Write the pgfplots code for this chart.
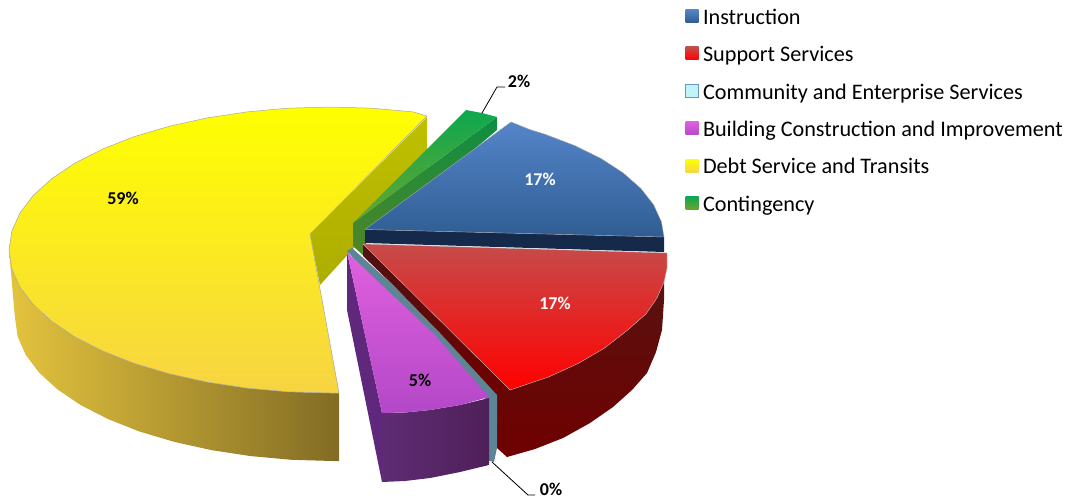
\documentclass[border=0pt]{standalone}
\usepackage{fontspec}
\setmainfont{Carlito}
\usepackage{pgfplots}
\pgfplotsset{compat=1.18}
\definecolor{yellowTop}{HTML}{FFFF00}
\definecolor{yellowLow}{HTML}{F7D443}
\definecolor{blueTop}{HTML}{5585C9}
\definecolor{blueLow}{HTML}{2F5D93}
\definecolor{blueWall}{HTML}{15294A}
\definecolor{redTop}{HTML}{C64C4A}
\definecolor{redLow}{HTML}{FF0000}
\definecolor{purpleTop}{HTML}{DF60DE}
\definecolor{purpleLow}{HTML}{B448C8}
\definecolor{greenTop}{HTML}{0DA84F}
\definecolor{greenLow}{HTML}{6AA52E}
\definecolor{teal}{HTML}{5E8596}
\newcommand{\pct}[1]{\fontsize{18}{21}\selectfont\bfseries #1}
\begin{document}
\begin{tikzpicture}
\begin{axis}[
  scale only axis, width=1068pt, height=498pt,
  xmin=0, xmax=1068, ymin=0, ymax=498, y dir=reverse,
  hide axis, clip=false,
  legend style={at={(axis cs:685,9.5)}, anchor=north west, draw=none, fill=none,
    inner sep=0pt, outer sep=0pt, row sep=17.8pt, column sep=4pt,
    nodes={inner sep=0pt, anchor=west, text height=14pt, text depth=5pt,
           font=\fontsize{22.2}{26}\selectfont}},
  legend cell align=left,
  legend image code/.code={\path[#1] (0pt,-3pt) rectangle (13pt,10pt);},
]
\addplot[draw=none, forget plot] coordinates {(0,0) (1068,498)};

% Debt Service and Transits: cut wall, top face, outer wall
\addplot[forget plot, draw=none, top color=yellow!75!black, bottom color=yellow!68!black]
  coordinates {(427,117) (427,168) (320,285) (310,234)} -- cycle;
\addplot[forget plot, draw=none, left color=yellowLow!92!black, right color=yellowLow!50!black!90!brown]
  coordinates {(9,250) (11.8,268.7) (19.9,287) (33.4,304.7) (52,321.5) (75.3,337.1) (103,351.1)
   (134.6,363.5) (169.5,373.8) (207.2,382.1) (246.9,388.1) (288.1,391.8) (330,393) (339,393)
   (339,461) (333,461) (291.5,459.8) (250.7,456.1) (211.3,450.1) (174,441.8) (139.4,431.5)
   (108.1,419.1) (80.7,405.1) (57.6,389.5) (39.2,372.7) (25.8,355) (17.7,336.7) (15,318)} -- cycle;
\addplot[forget plot, draw=gray!70, line width=0.5pt, top color=yellowTop, bottom color=yellowLow]
  coordinates {(427,116) (413.1,111.9) (371.9,108.2) (330,107) (288.1,108.2) (246.9,111.9)
   (207.2,117.9) (169.5,126.2) (134.6,136.5) (103,148.9) (75.3,162.9) (52,178.5) (33.4,195.3)
   (19.9,213) (11.8,231.3) (9,250) (11.8,268.7) (19.9,287) (33.4,304.7) (52,321.5) (75.3,337.1)
   (103,351.1) (134.6,363.5) (169.5,373.8) (207.2,382.1) (246.9,388.1) (288.1,391.8) (330,393)
   (339,393) (310,234)} -- cycle;

% Contingency
\addplot[forget plot, draw=none, top color=greenTop!85!black, bottom color=greenLow!80!black]
  coordinates {(497,117) (497,130) (366,240) (366,258) (353,246) (353,223)} -- cycle;
\addplot[forget plot, draw=none, top color=greenTop, bottom color=greenLow]
  coordinates {(466,110) (482,113) (497,117) (353,223)} -- cycle;

% Instruction
\addplot[forget plot, draw=none, fill=blueWall]
  coordinates {(365,229.5) (664,237) (664,252) (365,243)} -- cycle;
\addplot[forget plot, draw=gray!70, line width=0.4pt, top color=blueTop, bottom color=blueLow]
  coordinates {(511,122) (530,129.6) (545.1,134.3) (575,145.7) (601.2,158.6) (623.3,173)
   (640.9,188.5) (653.6,204.8) (661.4,221.8) (664,237) (365,229.5)} -- cycle;

% Support Services
\addplot[forget plot, draw=none, top color={rgb,255:red,80;green,18;blue,18}, bottom color={rgb,255:red,112;green,0;blue,0}]
  coordinates {(363,244) (510,390) (497,396) (393,285) (363,256)} -- cycle;
\addplot[forget plot, draw=none, top color={rgb,255:red,88;green,18;blue,16}, bottom color={rgb,255:red,112;green,0;blue,0}]
  coordinates {(510,390) (516,388) (548.9,376.8) (578.5,363.3) (604.6,348) (626.5,331) (646,314)
   (657,298) (664,282) (664,300) (662,330) (656,352) (647,373) (632,390) (613,407)
   (590,423) (563,438) (535,449) (507,457) (497,448) (496,393)} -- cycle;
\addplot[forget plot, draw=gray!60, line width=0.4pt, top color=redTop, bottom color=redLow]
  coordinates {(363,244) (667,253) (667,268) (664,282) (657,298) (646,314) (626.5,331) (604.6,348)
   (578.5,363.3) (548.9,376.8) (516,388) (510,390)} -- cycle;

% Community and Enterprise Services
\addplot[forget plot, draw=none, fill=teal]
  coordinates {(347,251) (352,248) (393,285) (440,333) (497,395) (497,448) (494,462) (486,460)
   (486,400) (435,340) (387,295)} -- cycle;

% Building Construction and Improvement
\addplot[forget plot, draw=none, fill={rgb,255:red,96;green,40;blue,124}]
  coordinates {(347,252) (382,413) (382,482) (347,310)} -- cycle;
\addplot[forget plot, draw=none, left color={rgb,255:red,94;green,44;blue,116}, right color={rgb,255:red,78;green,32;blue,88}]
  coordinates {(382,413) (405,412.5) (430,410) (460,405) (489,398) (489,465) (460,472) (430,478)
   (405,481) (382,482)} -- cycle;
\addplot[forget plot, draw=none, top color=purpleTop, bottom color=purpleLow]
  coordinates {(347,252) (387,290) (435,335) (489,397) (460,405) (430,410) (405,412.5) (382,413)} -- cycle;

% Leader lines
\addplot[forget plot, black, line width=0.8pt] coordinates {(482,113) (497,87) (505,87)};
\addplot[forget plot, black, line width=0.8pt] coordinates {(492,462) (528,495) (535,495)};

% Percentage labels
\node[text=black] at (axis cs:123,198) {\pct{59\%}};
\node[text=white] at (axis cs:540,179) {\pct{17\%}};
\node[text=white] at (axis cs:555,303) {\pct{17\%}};
\node[text=black] at (axis cs:420,380) {\pct{5\%}};
\node[text=black] at (axis cs:519,81) {\pct{2\%}};
\node[text=black] at (axis cs:551,489) {\pct{0\%}};

% Legend swatches and entries
\addlegendimage{draw=none, top color=blueTop, bottom color=blueLow}
\addlegendentry{Instruction}
\addlegendimage{draw=none, top color=redTop, bottom color=redLow}
\addlegendentry{Support Services}
\addlegendimage{draw={rgb,255:red,106;green,148;blue,200}, line width=1pt, fill={rgb,255:red,191;green,244;blue,248}}
\addlegendentry{Community and Enterprise Services}
\addlegendimage{draw=none, top color=purpleTop, bottom color=purpleLow}
\addlegendentry{Building Construction and Improvement}
\addlegendimage{draw=none, top color=yellowTop, bottom color=yellowLow}
\addlegendentry{Debt Service and Transits}
\addlegendimage{draw=none, top color=greenTop, bottom color=greenLow}
\addlegendentry{Contingency}
\end{axis}
\end{tikzpicture}
\end{document}
